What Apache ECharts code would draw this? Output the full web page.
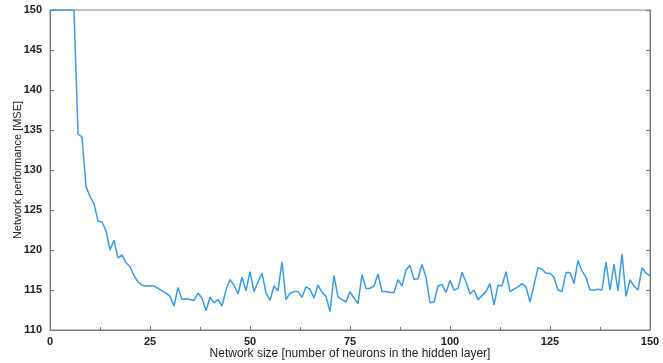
<!DOCTYPE html>
<html>
<head>
<meta charset="utf-8">
<script src="https://cdn.jsdelivr.net/npm/echarts@6/dist/echarts.min.js"></script>
<style>
  html, body { margin: 0; padding: 0; background: #fff; }
  #chart { width: 663px; height: 363px; }
</style>
</head>
<body>
<div id="chart"></div>
<script>
// MSE for network sizes 1..150
var mse = [
    150, 150, 150, 150, 150, 150, 134.5, 134.1, 127.9, 126.7,
    125.8, 123.6, 123.5, 122.4, 120.0, 121.2, 119.0, 119.4, 118.4, 117.9,
    116.8, 116.0, 115.6, 115.5, 115.5, 115.5, 115.2, 114.9, 114.6, 114.2,
    113.0, 115.3, 113.8, 113.9, 113.8, 113.7, 114.6, 114.0, 112.4, 114.1,
    113.4, 113.8, 113.0, 115.0, 116.3, 115.6, 114.5, 116.6, 114.9, 117.3,
    114.8, 116.0, 117.1, 114.6, 113.7, 115.5, 114.9, 118.5, 113.8, 114.6,
    114.8, 114.8, 114.1, 115.4, 115.1, 114.0, 115.6, 114.7, 114.2, 112.3,
    116.8, 114.1, 113.8, 113.5, 114.8, 114.0, 113.3, 116.9, 115.2, 115.2,
    115.5, 117.0, 114.8, 114.8, 114.7, 114.7, 116.3, 115.5, 117.5, 118.1,
    116.3, 116.4, 118.2, 116.6, 113.4, 113.5, 115.5, 115.7, 114.7, 116.2,
    115.0, 115.2, 117.2, 116.0, 114.5, 115.0, 113.8, 114.3, 114.8, 115.8,
    113.1, 115.6, 115.5, 117.3, 114.8, 115.1, 115.4, 115.8, 115.4, 113.5,
    115.6, 117.8, 117.6, 117.1, 117.1, 116.6, 115.0, 114.8, 117.2, 117.2,
    115.8, 118.7, 117.4, 116.6, 115.0, 115.0, 115.1, 115.0, 118.5, 115.0,
    118.2, 114.9, 119.5, 114.2, 116.3, 115.5, 115.0, 117.8, 117.1, 116.8
];
var xTicks = [0, 25, 50, 75, 100, 125, 150];
var yTicks = [110, 115, 120, 125, 130, 135, 140, 145, 150];

var points = [[0, mse[0]]];
for (var i = 0; i < mse.length; i++) {
    points.push([i + 1, mse[i]]);
}

var myChart = echarts.init(document.getElementById("chart"));
var labelFont = { color: '#222', fontSize: 11, fontWeight: 'bold', fontFamily: 'Liberation Sans' };
var axisLine = { show: true, lineStyle: { color: '#777', width: 1 } };

option = {
    animation: false,
    grid: {
        left: 50, right: 13, top: 10, bottom: 33,
        containLabel: false,
        outerBoundsMode: 'none',
        show: true, borderColor: '#888', borderWidth: 1
    },
    xAxis: {
        type: 'value',
        min: xTicks[0],
        max: xTicks[xTicks.length - 1],
        interval: 25,
        name: 'Network size [number of neurons in the hidden layer]',
        nameLocation: 'middle',
        nameGap: 18,
        nameMoveOverlap: false,
        nameTextStyle: { color: '#222', fontSize: 12, fontFamily: 'Liberation Sans' },
        axisLine: axisLine,
        axisTick: { inside: true, length: 4, lineStyle: { color: '#777' } },
        minorTick: { show: true, splitNumber: 2, length: 3, lineStyle: { color: '#777' } },
        axisLabel: Object.assign({ margin: 6 }, labelFont),
        splitLine: { show: false }
    },
    yAxis: [
        {
            type: 'value',
            min: yTicks[0],
            max: yTicks[yTicks.length - 1],
            interval: 5,
            name: 'Network performance [MSE]',
            nameLocation: 'middle',
            nameGap: 27,
            nameMoveOverlap: false,
            nameTextStyle: { color: '#222', fontSize: 11, fontFamily: 'Liberation Sans' },
            axisLine: axisLine,
            axisTick: { inside: true, length: 4, lineStyle: { color: '#777' } },
            axisLabel: Object.assign({ margin: 8 }, labelFont),
            splitLine: { show: false }
        },
        {
            type: 'value',
            position: 'right',
            min: yTicks[0],
            max: yTicks[yTicks.length - 1],
            interval: 5,
            axisLine: axisLine,
            axisTick: { inside: true, length: 4, lineStyle: { color: '#777' } },
            axisLabel: { show: false },
            splitLine: { show: false }
        }
    ],
    series: [
        {
            type: 'line',
            data: points,
            showSymbol: false,
            clip: true,
            lineStyle: { color: '#3a9ae2', width: 1.5 }
        }
    ]
};
myChart.setOption(option);
</script>
</body>
</html>
